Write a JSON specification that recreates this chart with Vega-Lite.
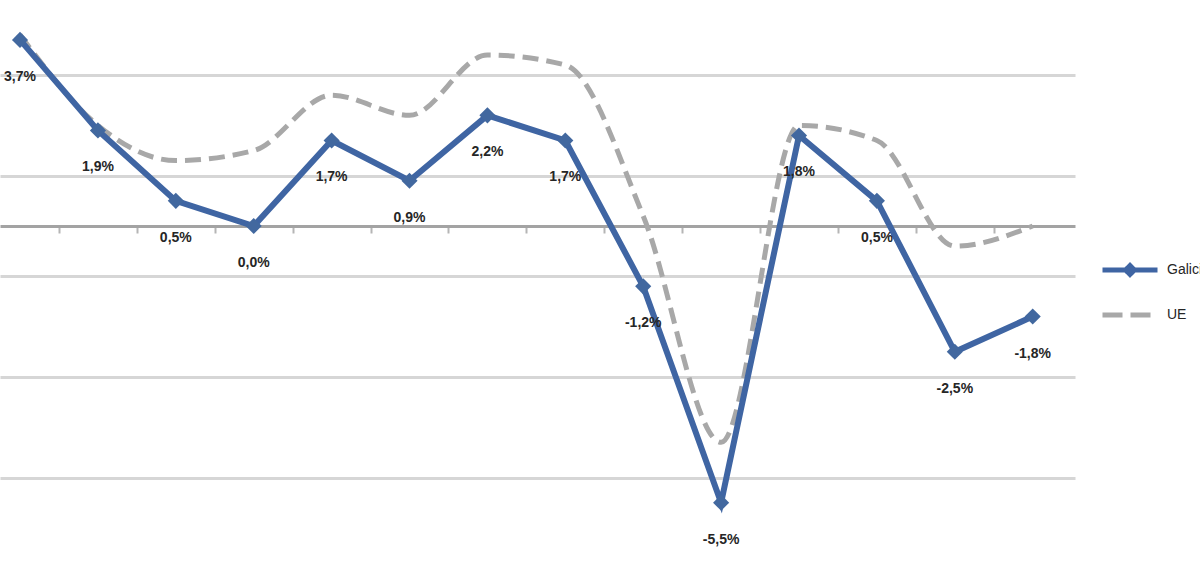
{
  "$schema": "https://vega.github.io/schema/vega-lite/v6.json",
  "autosize": "none",
  "width": 1075,
  "height": 574,
  "padding": {"left": 0, "top": 0, "right": 125, "bottom": 0},
  "background": "#ffffff",
  "config": {
    "view": {"stroke": null},
    "font": "Liberation Sans",
    "axis": {"labelFont": "Liberation Sans"},
    "legend": {"labelFont": "Liberation Sans"}
  },
  "data": {
    "values": [
      {"anio": 2000, "serie": "Galicia", "valor": 3.7},
      {"anio": 2001, "serie": "Galicia", "valor": 1.9},
      {"anio": 2002, "serie": "Galicia", "valor": 0.5},
      {"anio": 2003, "serie": "Galicia", "valor": 0.0},
      {"anio": 2004, "serie": "Galicia", "valor": 1.7},
      {"anio": 2005, "serie": "Galicia", "valor": 0.9},
      {"anio": 2006, "serie": "Galicia", "valor": 2.2},
      {"anio": 2007, "serie": "Galicia", "valor": 1.7},
      {"anio": 2008, "serie": "Galicia", "valor": -1.2},
      {"anio": 2009, "serie": "Galicia", "valor": -5.5},
      {"anio": 2010, "serie": "Galicia", "valor": 1.8},
      {"anio": 2011, "serie": "Galicia", "valor": 0.5},
      {"anio": 2012, "serie": "Galicia", "valor": -2.5},
      {"anio": 2013, "serie": "Galicia", "valor": -1.8},
      {"anio": 2000, "serie": "UE", "valor": 3.8},
      {"anio": 2001, "serie": "UE", "valor": 2.0},
      {"anio": 2002, "serie": "UE", "valor": 1.3},
      {"anio": 2003, "serie": "UE", "valor": 1.5},
      {"anio": 2004, "serie": "UE", "valor": 2.6},
      {"anio": 2005, "serie": "UE", "valor": 2.2},
      {"anio": 2006, "serie": "UE", "valor": 3.4},
      {"anio": 2007, "serie": "UE", "valor": 3.2},
      {"anio": 2008, "serie": "UE", "valor": 0.2},
      {"anio": 2009, "serie": "UE", "valor": -4.3},
      {"anio": 2010, "serie": "UE", "valor": 2.0},
      {"anio": 2011, "serie": "UE", "valor": 1.7},
      {"anio": 2012, "serie": "UE", "valor": -0.4},
      {"anio": 2013, "serie": "UE", "valor": 0.0}
    ]
  },
  "encoding": {
    "x": {
      "field": "anio",
      "type": "quantitative",
      "title": null,
      "scale": {"domain": [1999.743, 2013.543], "nice": false, "zero": false},
      "axis": {
        "orient": "bottom",
        "offset": -348,
        "values": [2000.5, 2001.5, 2002.5, 2003.5, 2004.5, 2005.5, 2006.5, 2007.5, 2008.5, 2009.5, 2010.5, 2011.5, 2012.5],
        "labels": false,
        "grid": false,
        "domainColor": "#a3a3a3",
        "domainWidth": 3,
        "tickColor": "#b5b5b5",
        "tickWidth": 2,
        "tickSize": 7
      }
    },
    "y": {
      "field": "valor",
      "type": "quantitative",
      "title": null,
      "scale": {"domain": [-6.918, 4.493], "nice": false, "zero": false},
      "axis": {
        "values": [-5, -3, -1, 1, 3],
        "labels": false,
        "ticks": false,
        "domain": false,
        "grid": true,
        "gridColor": "#d6d6d6",
        "gridWidth": 3
      }
    }
  },
  "layer": [
    {
      "mark": {"type": "line", "strokeWidth": 5, "interpolate": "monotone"},
      "transform": [{"filter": "datum.serie === 'UE'"}],
      "encoding": {
        "color": {"value": "#a8a8a8"},
        "strokeDash": {"value": [16, 8]}
      }
    },
    {
      "mark": {"type": "line", "strokeWidth": 6},
      "transform": [{"filter": "datum.serie === 'Galicia'"}],
      "encoding": {"color": {"value": "#3f65a3"}}
    },
    {
      "mark": {"type": "point", "shape": "diamond", "size": 260, "filled": true, "opacity": 1, "strokeWidth": 1},
      "transform": [{"filter": "datum.serie === 'Galicia'"}],
      "encoding": {"color": {"value": "#42689f"}}
    },
    {
      "mark": {"type": "text", "dy": 37, "fontSize": 14, "fontWeight": "bold", "color": "#262626"},
      "transform": [
        {"filter": "datum.serie === 'Galicia'"},
        {"calculate": "replace(replace(format(datum.valor, '.1f'), '.', ','), '\u2212', '-') + '%'", "as": "etiqueta"}
      ],
      "encoding": {"text": {"field": "etiqueta"}}
    },
    {
      "mark": {"type": "line", "opacity": 0},
      "encoding": {
        "color": {
          "field": "serie",
          "type": "nominal",
          "scale": {"domain": ["Galicia", "UE"], "range": ["#3f65a3", "#a8a8a8"]},
          "legend": {
            "title": null,
            "orient": "none",
            "legendX": 1144,
            "legendY": 262,
            "symbolType": "M-9,0H1",
            "symbolSize": 121,
            "symbolStrokeWidth": 5,
            "symbolOpacity": 1,
            "labelFontSize": 14,
            "labelColor": "#262626",
            "labelOffset": 7,
            "rowPadding": 20,
            "encode": {
              "symbols": {
                "update": {
                  "shape": [
                    {"test": "datum.value === 'Galicia'", "value": "M-9,0H1M-4,-0.8L-3.2,0L-4,0.8L-4.8,0Z"},
                    {"value": "M-9,0H1"}
                  ],
                  "strokeDash": [
                    {"test": "datum.value === 'UE'", "value": [20, 8]},
                    {"value": [1, 0]}
                  ],
                  "opacity": {"value": 1}
                }
              }
            }
          }
        }
      }
    }
  ]
}
